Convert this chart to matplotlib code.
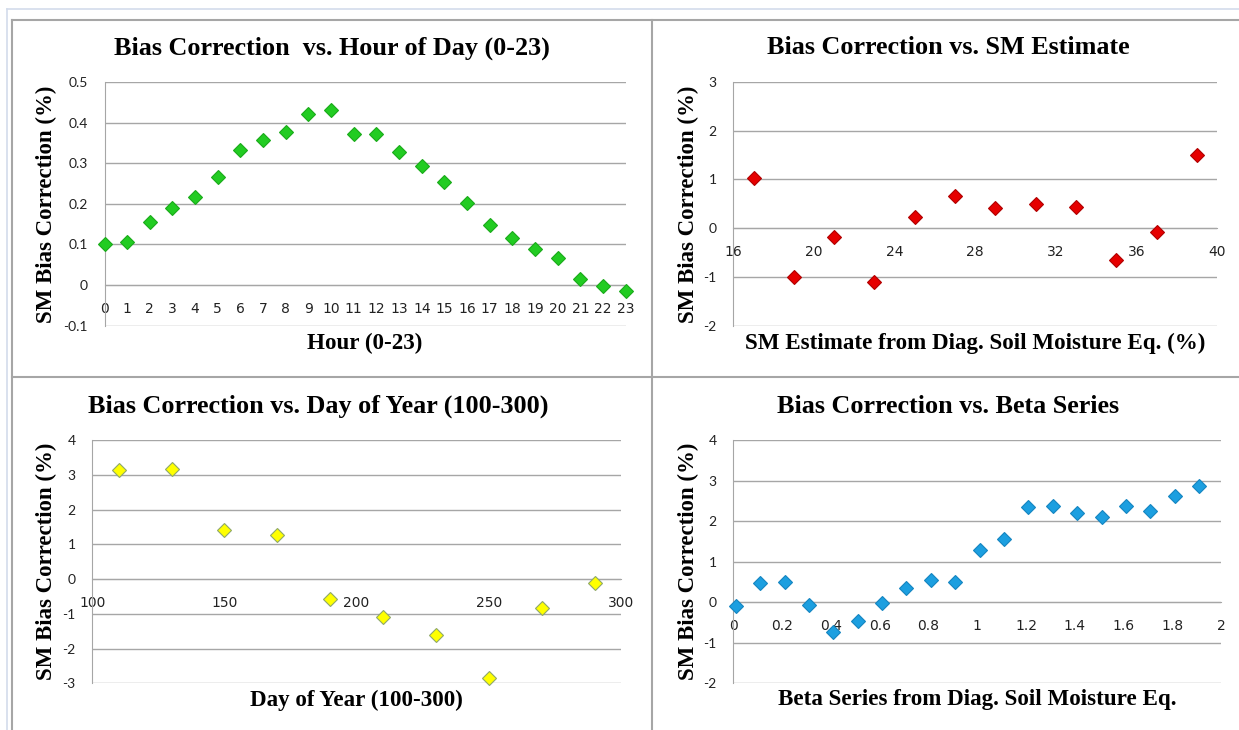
import matplotlib.pyplot as plt
from matplotlib.lines import Line2D

W, H = 1239, 730

# panel 1: hour of day
hours = list(range(24))
hour_bias = [0.101, 0.107, 0.155, 0.190, 0.217, 0.265, 0.333, 0.357, 0.378, 0.421,
             0.430, 0.373, 0.373, 0.327, 0.293, 0.254, 0.201, 0.149, 0.116, 0.089,
             0.067, 0.015, -0.002, -0.015]
hour_yticks = [-0.1, 0, 0.1, 0.2, 0.3, 0.4, 0.5]
hour_ylabels = ['-0.1', '0', '0.1', '0.2', '0.3', '0.4', '0.5']

# panel 2: SM estimate
sm_est = [17, 19, 21, 23, 25, 27, 29, 31, 33, 35, 37, 39]
sm_bias = [1.04, -1.01, -0.17, -1.10, 0.23, 0.66, 0.41, 0.49, 0.44, -0.66, -0.07, 1.50]
sm_xticks = [16, 20, 24, 28, 32, 36, 40]
sm_yticks = [-2, -1, 0, 1, 2, 3]

# panel 3: day of year
doy = [110, 130, 150, 170, 190, 210, 230, 250, 270, 290]
doy_bias = [3.13, 3.16, 1.42, 1.28, -0.57, -1.10, -1.60, -2.86, -0.82, -0.10]
doy_xticks = [100, 150, 200, 250, 300]
doy_yticks = [-3, -2, -1, 0, 1, 2, 3, 4]

# panel 4: beta series
beta = [0.01, 0.11, 0.21, 0.31, 0.41, 0.51, 0.61, 0.71, 0.81, 0.91,
        1.01, 1.11, 1.21, 1.31, 1.41, 1.51, 1.61, 1.71, 1.81, 1.91]
beta_bias = [-0.10, 0.48, 0.51, -0.07, -0.74, -0.47, -0.01, 0.35, 0.54, 0.51,
             1.28, 1.55, 2.34, 2.37, 2.19, 2.10, 2.37, 2.26, 2.62, 2.87]
beta_xticks = [0, 0.2, 0.4, 0.6, 0.8, 1, 1.2, 1.4, 1.6, 1.8, 2]
beta_xlabels = ['0', '0.2', '0.4', '0.6', '0.8', '1', '1.2', '1.4', '1.6', '1.8', '2']
beta_yticks = [-2, -1, 0, 1, 2, 3, 4]

GRID = '#A6A6A6'
TICKFONT = dict(family=['Lato', 'DejaVu Sans'], size=10)
SERIF = ['Liberation Serif', 'DejaVu Serif']

fig = plt.figure(figsize=(W / 100, H / 100), dpi=100)


def px_axes(l, t, r, b):
    return fig.add_axes([l / W, 1 - b / H, (r - l) / W, (b - t) / H])


def ftext(x, y, s, size, **kw):
    fig.text(x / W, 1 - y / H, s, ha='center', va='center', family=SERIF,
             weight='bold', size=size, **kw)


def panel(box, x, y, color, edge, xticks, xlabels, yticks, ylabels,
          title, title_xy, xlabel, xlabel_xy, ylabel_x):
    ax = px_axes(*box)
    ax.plot(x, y, 'D', ms=7.5, mfc=color, mec=edge, mew=0.8, ls='none',
            clip_on=False, zorder=3)
    ax.set_xlim(xticks[0], xticks[-1])
    ax.set_ylim(yticks[0], yticks[-1])
    ax.set_xticks(xticks)
    ax.set_xticklabels(xlabels, **TICKFONT)
    ax.set_yticks(yticks)
    ax.set_yticklabels(ylabels, **TICKFONT)
    for s in ['top', 'right']:
        ax.spines[s].set_visible(False)
    ax.spines['left'].set_color(GRID)
    ax.spines['bottom'].set_color(GRID)
    ax.spines['bottom'].set_position(('data', 0))
    ax.tick_params(axis='both', length=0, colors='#222222')
    ax.tick_params(axis='x', pad=12)
    ax.tick_params(axis='y', pad=12)
    ax.grid(axis='y', color=GRID, lw=1)
    ax.set_axisbelow(True)
    ftext(*title_xy, title, 18.8)
    ftext(*xlabel_xy, xlabel, 16.6)
    cy = (box[1] + box[3]) / 2
    ftext(ylabel_x, cy, 'SM Bias Correction (%)', 16.5, rotation=90)
    return ax


panel((104.5, 82, 625.7, 325.7), hours, hour_bias, '#22CC22', '#1AAA1A',
      hours, [str(h) for h in hours], hour_yticks, hour_ylabels,
      'Bias Correction  vs. Hour of Day (0-23)', (332, 48),
      'Hour (0-23)', (365, 343), 46)

panel((733.4, 82, 1217, 325.7), sm_est, sm_bias, '#E60000', '#B00000',
      sm_xticks, [str(v) for v in sm_xticks], sm_yticks, [str(v) for v in sm_yticks],
      'Bias Correction vs. SM Estimate', (948, 48),
      'SM Estimate from Diag. Soil Moisture Eq. (%)', (975, 343), 688)

panel((92.2, 440, 621, 683.3), doy, doy_bias, '#FFFF00', '#8FA86A',
      doy_xticks, [str(v) for v in doy_xticks], doy_yticks, [str(v) for v in doy_yticks],
      'Bias Correction vs. Day of Year (100-300)', (318, 406),
      'Day of Year (100-300)', (356, 700), 46)

panel((733.4, 440, 1221, 683.3), beta, beta_bias, '#1C9FE0', '#1585C0',
      beta_xticks, beta_xlabels, beta_yticks, [str(v) for v in beta_yticks],
      'Bias Correction vs. Beta Series', (948, 406),
      'Beta Series from Diag. Soil Moisture Eq.', (977, 700), 688)


# frame lines around the panels
def fline(xs, ys, color, lw):
    fig.add_artist(Line2D([v / W for v in xs], [1 - v / H for v in ys],
                          color=color, lw=lw))


fline([6.7, 6.7], [8.7, 730], '#D3DCEB', 1.2)
fline([6.7, 1239], [8.7, 8.7], '#D3DCEB', 1.2)
fline([11.7, 11.7], [20, 730], GRID, 1.5)
fline([11.7, 1239], [20, 20], GRID, 1.5)
fline([652.5, 652.5], [20, 730], GRID, 1.5)
fline([11.7, 1239], [376.7, 376.7], GRID, 1.5)

fig.savefig('out.png', dpi=100)
